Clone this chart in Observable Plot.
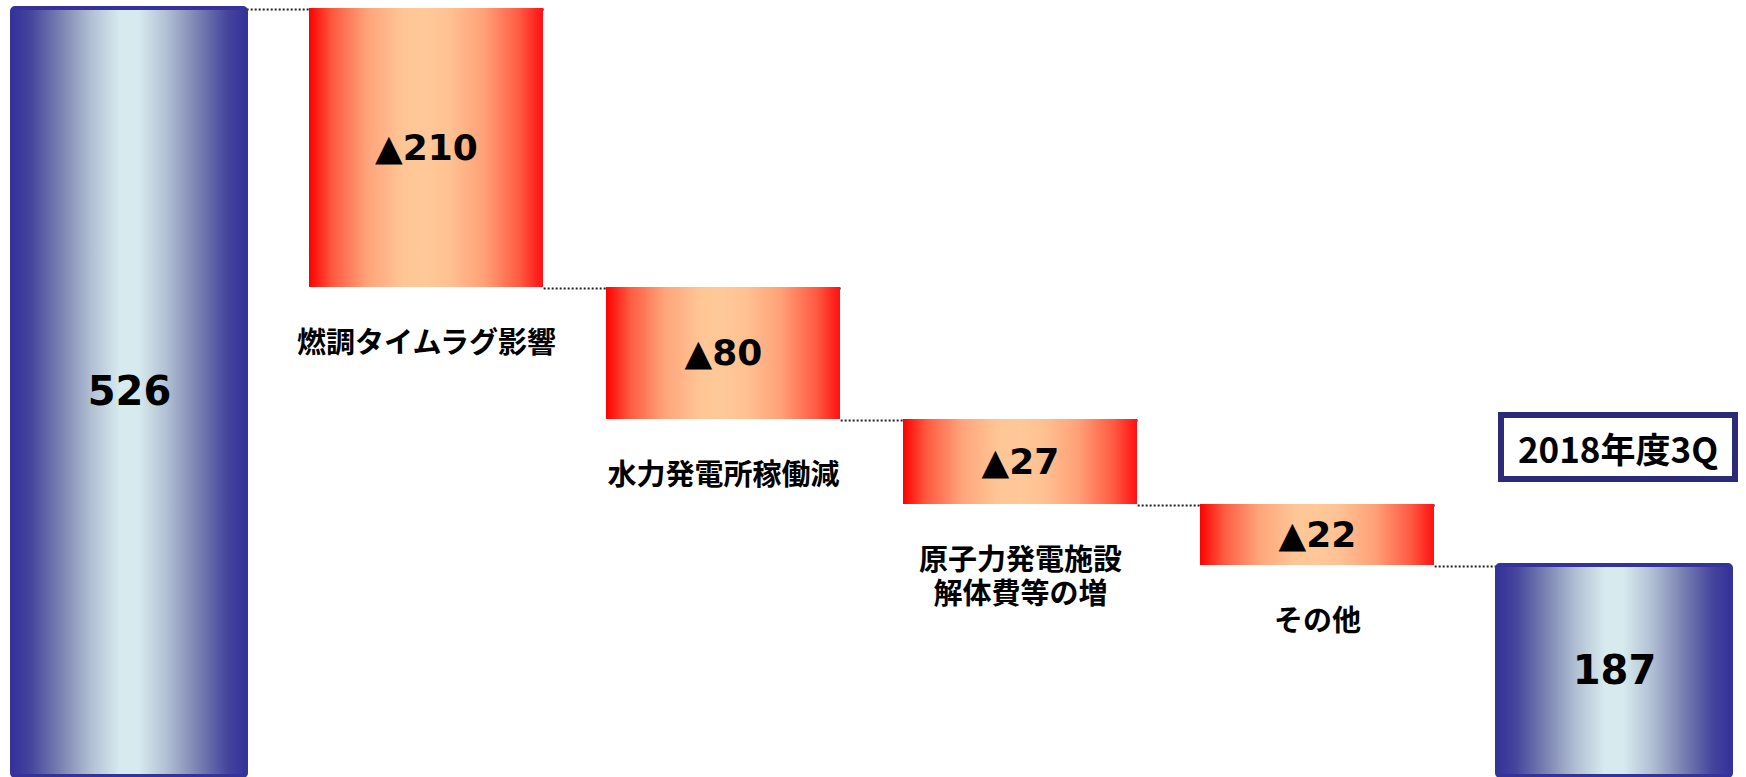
<!DOCTYPE html>
<html><head><meta charset="utf-8">
<script src="https://cdn.jsdelivr.net/npm/d3@7"></script>
<script src="https://cdn.jsdelivr.net/npm/@observablehq/plot@0.6"></script>
<style>
html,body{margin:0;padding:0;background:#fff;}
#wrap{position:relative;width:1746px;height:777px;overflow:hidden;}
#tag{position:absolute;box-sizing:border-box;border:6px solid #2b2b77;background:#fff;font-family:"Noto Sans CJK JP","Noto Sans",sans-serif;font-weight:700;font-size:35px;color:#000;display:flex;align-items:center;justify-content:center;line-height:1;}
</style></head><body><div id="wrap"></div>
<script>
// ---- data ----
const categories = ["2017年度3Q", "燃調タイムラグ影響", "水力発電所稼働減", "原子力発電施設\n解体費等の増", "その他", "2018年度3Q"];
const startValue = 526;
const deltas = [-210, -80, -27, -22];
const endValue = 187;
const valueLabels = ["526", "▲210", "▲80", "▲27", "▲22", "187"];
const endTag = "2018年度3Q";

// ---- derived rows ----
const levels = [startValue];
deltas.forEach(d => levels.push(levels[levels.length - 1] + d));

const totalRows = [
  {cat: categories[0], y1: 0, y2: startValue, label: valueLabels[0]},
  {cat: categories[5], y1: 0, y2: endValue, label: valueLabels[5]}
];
const deltaRows = deltas.map((d, i) => ({cat: categories[i + 1], y1: levels[i], y2: levels[i + 1], label: valueLabels[i + 1]}));
const linkRows = levels.map((v, i) => ({from: categories[i], to: categories[i + 1], level: v}));

// scales: band x; the reference uses a broken (non-linear) value axis -> piecewise linear y through each level
const xOpts = {type: "band", domain: categories, range: [10, 1733], paddingInner: 0.213, paddingOuter: 0};
const yOpts = {
  type: "linear",
  domain: [0, ...levels].sort(d3.ascending),
  range: [776, 565, 504, 419, 287, 8]
};
const xsc = Plot.scale({x: xOpts});
const ys = d3.scaleLinear().domain(yOpts.domain).range(yOpts.range);
const mid = r => ys.invert((ys(r.y1) + ys(r.y2)) / 2);

const numFont = "'DejaVu Sans', Verdana, sans-serif";
const jpFont = "'Noto Sans CJK JP', 'Noto Sans', sans-serif";

const chart = Plot.plot({
  width: 1746,
  height: 777,
  margin: 0,
  style: {background: "transparent", overflow: "visible"},
  x: {...xOpts, axis: null},
  y: {...yOpts, axis: null},
  marks: [
    // connectors: from right edge of one bar to the next bar (hidden behind it)
    Plot.link(linkRows, {x1: "from", x2: "to", y1: "level", y2: "level", dx: xsc.bandwidth / 2, dy: 1, stroke: "#222", strokeWidth: 2, strokeDasharray: "2,2"}),
    Plot.barY(deltaRows, {x: "cat", y1: "y1", y2: "y2", fill: "url(#gRed)", insetLeft: 0, insetRight: 0}),
    Plot.barY(totalRows, {x: "cat", y1: "y1", y2: "y2", fill: "url(#gBlue)", stroke: "#333399", strokeWidth: 4, rx: 3, insetLeft: 0, insetRight: 0}),
    Plot.text(totalRows, {x: "cat", y: mid, text: "label", fontSize: 40, fontWeight: 700, fontFamily: numFont, fill: "#000"}),
    Plot.text(deltaRows, {x: "cat", y: mid, text: "label", fontSize: 36, fontWeight: 700, fontFamily: numFont, fill: "#000"}),
    Plot.text(deltaRows, {x: "cat", y: "y2", text: "cat", dy: 42, lineAnchor: "top", lineHeight: 1.16, fontSize: 29, fontWeight: 700, fontFamily: jpFont, fill: "#000"})
  ]
});

// gradients
const defs = d3.select(chart).insert("defs", ":first-child");
const blue = defs.append("linearGradient").attr("id", "gBlue").attr("x1", 0).attr("x2", 1).attr("y1", 0).attr("y2", 0);
[[0, "#34329a"], [0.08, "#44459c"], [0.22, "#7f88b4"], [0.34, "#b2c0d4"], [0.46, "#d7eaee"], [0.54, "#d7eaee"], [0.66, "#b2c0d4"], [0.78, "#7f88b4"], [0.92, "#44459c"], [1, "#34329a"]]
  .forEach(([o, c]) => blue.append("stop").attr("offset", o).attr("stop-color", c));
const red = defs.append("linearGradient").attr("id", "gRed").attr("x1", 0).attr("x2", 1).attr("y1", 0).attr("y2", 0);
[[0, "#ff0000"], [0.1, "#ff5a40"], [0.25, "#ffa47a"], [0.4, "#ffc595"], [0.5, "#ffc898"], [0.6, "#ffc192"], [0.75, "#ffa077"], [0.9, "#ff5a42"], [1, "#ff1010"]]
  .forEach(([o, c]) => red.append("stop").attr("offset", o).attr("stop-color", c));

const wrap = document.getElementById("wrap");
wrap.appendChild(chart);

// the end-period tag box above the last bar
const xs = chart.scale("x");
const cx = xs.apply(categories[5]) + xs.bandwidth / 2;
const tag = document.createElement("div");
tag.id = "tag";
tag.textContent = endTag;
const tw = 240, th = 70;
tag.style.left = (cx - tw / 2 + 4) + "px";
tag.style.top = "412px";
tag.style.width = tw + "px";
tag.style.height = th + "px";
wrap.appendChild(tag);
</script>
</body></html>
